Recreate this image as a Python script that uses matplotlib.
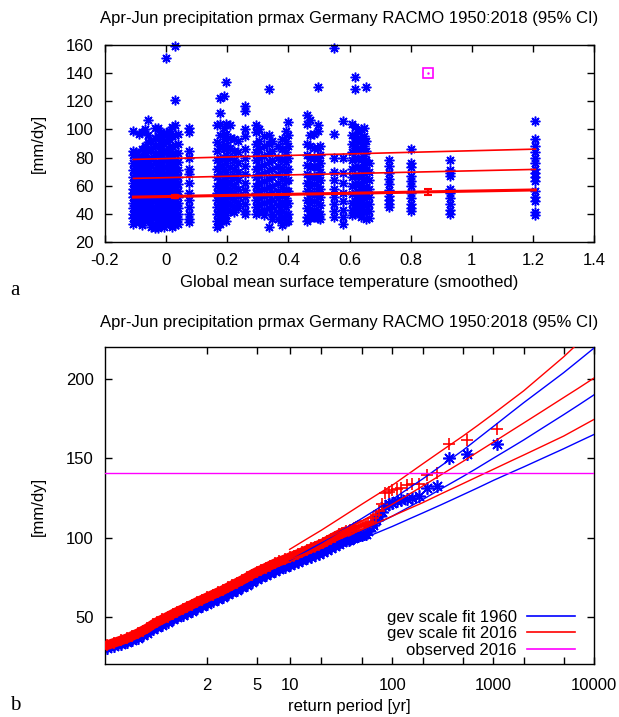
import numpy as np
import matplotlib
matplotlib.use("Agg")
import matplotlib.pyplot as plt
from matplotlib.ticker import NullLocator

plt.rcParams["font.family"] = ["Liberation Sans", "DejaVu Sans"]
plt.rcParams["font.size"] = 12

title = "Apr-Jun precipitation prmax Germany RACMO 1950:2018 (95% CI)"

# ---- panel a: annual maxima vs smoothed GMST (one column per year) ----
gmst = [-0.107, -0.098, -0.088, -0.078, -0.068, -0.058, -0.048, -0.038, -0.028, -0.018,
        -0.008, 0.0, 0.01, 0.02, 0.028, 0.04, 0.075,
        0.165, 0.175, 0.19, 0.197, 0.21, 0.222, 0.235, 0.258,
        0.295, 0.305, 0.32, 0.335, 0.348, 0.365, 0.38, 0.392, 0.4,
        0.46, 0.47, 0.485, 0.497, 0.505, 0.548, 0.58,
        0.607, 0.617, 0.627, 0.637, 0.647, 0.655, 0.665,
        0.728, 0.8, 0.93, 1.208]
prmax = [
    [99, 85, 82, 76, 71, 66, 62, 58, 55, 52, 48, 44, 40, 37, 33],
    [84, 79, 74, 69, 64, 60, 57, 53, 50, 46, 42, 38, 35],
    [97, 81, 77, 72, 67, 63, 59, 55, 51, 47, 43, 39, 34],
    [98, 86, 80, 75, 70, 65, 61, 56, 52, 49, 45, 41, 36, 32],
    [100, 88, 83, 78, 73, 68, 63, 58, 54, 50, 46, 42, 38, 35],
    [107, 96, 91, 85, 79, 74, 69, 64, 60, 56, 52, 48, 44, 40, 36],
    [92, 86, 80, 75, 70, 66, 62, 58, 54, 50, 46, 43, 39, 34, 31],
    [101, 94, 88, 82, 76, 71, 66, 61, 57, 53, 49, 45, 41, 37, 32, 30],
    [101, 95, 89, 83, 77, 72, 67, 62, 58, 54, 50, 46, 42, 38, 34, 30],
    [98, 92, 86, 80, 74, 69, 64, 60, 56, 52, 48, 44, 40, 36, 32],
    [96, 90, 84, 78, 73, 68, 64, 59, 55, 51, 47, 43, 39, 35, 31],
    [151, 97, 91, 85, 79, 73, 68, 63, 59, 55, 51, 47, 43, 39, 35],
    [99, 93, 86, 80, 75, 70, 65, 61, 57, 53, 49, 45, 41, 37, 33],
    [102, 95, 88, 82, 77, 72, 67, 62, 58, 54, 50, 46, 42, 38, 34, 31],
    [159, 121, 103, 96, 89, 83, 78, 73, 68, 63, 59, 55, 51, 47, 43, 39, 35, 32],
    [97, 90, 83, 77, 71, 66, 61, 56, 52, 48, 44, 40, 36, 33],
    [101, 98, 85, 80, 72, 68, 62, 55, 50, 45, 40, 36, 34],
    [103, 91, 85, 78, 72, 66, 60, 55, 50, 45, 40, 35, 31],
    [122, 112, 104, 96, 88, 80, 74, 68, 62, 57, 52, 47, 42, 37, 33],
    [124, 101, 93, 86, 79, 72, 66, 61, 56, 51, 46, 41, 37],
    [134, 104, 97, 89, 82, 76, 70, 64, 59, 54, 49, 44, 39, 35],
    [103, 94, 87, 80, 73, 67, 62, 57, 52, 47, 42],
    [93, 85, 78, 72, 66, 60, 55, 50, 45, 41],
    [92, 84, 76, 70, 64, 58, 53, 48, 44],
    [117, 113, 100, 95, 86, 80, 74, 68, 62, 57, 52, 47, 42, 40],
    [103, 98, 90, 84, 78, 72, 66, 60, 55, 50, 45, 40],
    [100, 92, 86, 80, 74, 68, 62, 57, 52, 47, 42],
    [95, 88, 81, 75, 69, 63, 58, 53, 48, 43, 39],
    [129, 96, 90, 83, 77, 71, 65, 59, 54, 49, 44, 31],
    [92, 85, 78, 72, 66, 60, 55, 50, 45, 40, 36],
    [88, 80, 74, 68, 62, 56, 51, 46, 41, 36],
    [93, 86, 79, 72, 65, 59, 53, 47, 42, 37, 32],
    [99, 92, 84, 77, 70, 63, 57, 51, 45, 39, 34],
    [105, 96, 88, 80, 72, 64, 56, 48, 40, 35],
    [110, 104, 90, 82, 75, 68, 62, 56, 50, 44, 38, 35],
    [107, 96, 88, 80, 73, 66, 60, 54, 48, 42, 37],
    [97, 87, 80, 74, 67, 61, 55, 49, 43, 38],
    [130, 103, 99, 87, 80, 73, 66, 60, 54, 48, 42, 37],
    [88, 82, 76, 70, 64, 58, 52, 46, 40, 36],
    [158, 97, 80, 70, 64, 58, 52, 47, 42, 38],
    [106, 80, 69, 62, 55, 49, 43, 38, 33],
    [104, 96, 90, 84, 78, 72, 66, 60, 54, 48, 43, 39],
    [137, 129, 102, 94, 87, 80, 73, 67, 61, 55, 49, 44, 40],
    [98, 91, 85, 79, 73, 67, 61, 56, 51, 46, 41],
    [100, 93, 86, 79, 72, 66, 60, 54, 48, 43, 38],
    [101, 95, 88, 81, 75, 69, 63, 57, 51, 46, 41],
    [130, 92, 85, 78, 71, 65, 59, 53, 47, 42, 36],
    [76, 70, 64, 58, 52, 47, 42, 37],
    [78, 74, 69, 65, 61, 57, 53, 50, 47, 45],
    [86, 76, 73, 67, 63, 60, 55, 51, 47, 44, 42],
    [78, 71, 69, 67, 58, 55, 51, 47, 43, 40],
    [106, 93, 88, 84, 80, 76, 72, 69, 66, 63, 56, 52, 49, 41, 39],
]

# fitted lines (location, and two return levels) at first / last covariate
fit_x = [-0.107, 1.208]
fit_mu = [51.9, 57.0]
fit_mid = [65.2, 71.6]
fit_hi = [78.7, 86.0]

# fit value with 95% CI at 1960 and 2016, observed 2016 value
ref_x = [0.028, 0.858]
ref_y = [52.6, 55.6]
ref_err = [1.0, 2.3]
obs_x = 0.858
obs_2016 = 140.4

# ---- panel b: Gumbel plot ----
rp_tail = [1100, 550, 367, 275, 220, 183, 157, 138, 122, 110, 100, 92, 85, 79, 73,
           69, 65, 61, 58, 55, 52, 50, 48, 46, 44, 42, 41, 39, 38, 37]
rp_dense = [35, 32, 30, 27, 25, 23, 21, 19, 17.5, 16, 14.5, 13, 12, 11, 10, 9, 8, 7.3,
            6.6, 6, 5.5, 5, 4.5, 4.1, 3.7, 3.4, 3.1, 2.85, 2.6, 2.4, 2.2, 2.0, 1.85,
            1.72, 1.6, 1.5, 1.42, 1.34, 1.28, 1.22, 1.17, 1.13, 1.1, 1.07, 1.05,
            1.035, 1.022, 1.013, 1.007, 1.003, 1.001]
obs1960_tail = [159, 152.6, 150, 132.5, 131, 126, 125, 124.5, 123.5, 123, 122, 121,
                120, 116, 113.5, 111, 108, 106.5, 104, 102.5, 102, 101.8, 101.5, 101,
                100.8, 100.5, 100, 99.5, 99, 98.5]
obs1960_dense = [98.3, 97, 95.8, 94.5, 93.5, 92.3, 91.0, 89.8, 88.9, 87.9, 86.8, 85.5,
                 84.6, 83.6, 82.5, 81.3, 80.0, 78.9, 77.5, 76.2, 75.0, 73.7, 72.0, 70.2,
                 68.5, 67.1, 65.5, 64.1, 62.5, 61.3, 59.8, 58.2, 56.8, 55.4, 53.8, 52.4,
                 51.1, 49.6, 48.3, 46.7, 45.1, 43.6, 42.1, 39.9, 38.3, 36.8, 35.3, 33.9,
                 32.8, 31.6, 30.3]
obs2016_tail = [168.4, 161.5, 159.3, 140.4, 139.4, 134, 133.5, 133, 131.5, 130.5, 130,
                128.5, 128, 121, 117, 114, 112, 109.5, 109, 108.5, 108, 107.5, 107, 107,
                106.5, 106, 105.5, 105, 104.5, 104]
obs2016_dense = [104, 103, 102, 100.5, 99.3, 98, 96.5, 95.3, 94.3, 93.2, 92, 90.6, 89.6,
                 88.6, 87.5, 86.2, 84.9, 83.7, 82.3, 80.9, 79.6, 78.3, 76.6, 74.8, 73.0,
                 71.6, 70.0, 68.5, 66.8, 65.5, 64.0, 62.3, 60.8, 59.4, 57.7, 56.2, 54.8,
                 53.2, 51.8, 50.1, 48.4, 46.8, 45.2, 42.8, 41.2, 39.6, 38.0, 36.4, 35.1,
                 33.6, 32.0]

rp_fit = [10, 15, 20, 30, 50, 70, 100, 150, 200, 300, 500, 700, 1000, 1500, 2000,
          3000, 5000, 7000, 10000]
fit1960_hi = [85.5, 92, 96.5, 103.4, 112, 117.8, 124, 131.7, 137, 145, 155, 162.3,
              170, 178.8, 185, 193.4, 204, 211.5, 219.5]
fit1960 = [83, 88, 91.5, 97, 104, 108.6, 113.5, 119.6, 124, 130.5, 138.5, 144, 150,
           156.7, 161.5, 168.6, 177.5, 183.5, 190]
fit1960_lo = [81.5, 85.9, 89, 93.4, 99, 102.9, 107, 112, 115.5, 120.5, 127, 131.3, 136,
              141, 144.5, 149.6, 156, 160.4, 165]
fit2016_hi = [92.5, 99.6, 104.5, 111.8, 121, 126.9, 133, 140.9, 146.5, 154.3, 164,
              170.7, 178, 186.5, 192.5, 202, 214, 222.7, 232]
fit2016 = [88, 93.6, 97.5, 103.3, 110.5, 115.6, 121, 127.7, 132.5, 139.4, 148, 153.9,
           160.1, 167.2, 172.2, 179.3, 188.3, 194.2, 200.6]
fit2016_lo = [86, 90.7, 94, 98.9, 105, 109.1, 113.5, 118.5, 122, 127.4, 134, 138.4, 143,
              148.3, 152, 157.3, 164, 169.1, 174.5]

rp_ticks = [2, 5, 10, 20, 50, 100, 200, 500, 1000, 2000, 5000, 10000]
rp_labels = ["2", "5", "10", "", "", "100", "", "", "1000", "", "", "10000"]

BLUE = "#0000ff"
RED = "#ff0000"
MAG = "#ff00ff"
star = (8, 2, 0)


def gumbel(T):
    T = np.clip(np.asarray(T, dtype=float), 1.0000001, None)
    return -np.log(-np.log1p(-1.0 / T))


def gumbel_inv(g):
    g = np.asarray(g, dtype=float)
    return 1.0 / -np.expm1(-np.exp(-g))


fig = plt.figure(figsize=(6.19, 7.17), dpi=100)
W, H = 619, 717
ax1 = fig.add_axes([105 / W, 1 - 242 / H, 489 / W, 197 / H])
ax2 = fig.add_axes([105 / W, 1 - 664.3 / H, 489 / W, 317 / H])

# panel a
for x, ys in zip(gmst, prmax):
    ax1.plot([x] * len(ys), ys, ls="none", marker=star, ms=7, mew=1.1,
             color=BLUE, clip_on=False, zorder=2)
ax1.plot(fit_x, fit_hi, color=RED, lw=1.2, zorder=3)
ax1.plot(fit_x, fit_mid, color=RED, lw=1.2, zorder=3)
ax1.plot(fit_x, fit_mu, color=RED, lw=2.2, zorder=3)
ax1.errorbar(ref_x[:1], ref_y[:1], yerr=ref_err[:1], fmt="s", ms=3.5, color=RED,
             elinewidth=1.5, capsize=3, capthick=1.5, zorder=4)
ax1.errorbar(ref_x[1:], ref_y[1:], yerr=ref_err[1:], fmt="none", ecolor=RED,
             elinewidth=1.5, capsize=3, capthick=1.5, zorder=4)
ax1.plot([obs_x], [obs_2016], marker="s", ms=7, mfc="none", mec=MAG, mew=1.2, zorder=4)
ax1.plot([obs_x], [obs_2016], marker=".", ms=1.5, color=MAG, zorder=4)
ax1.set_xlim(-0.2, 1.4)
ax1.set_ylim(20, 160)
ax1.set_xticks(np.arange(-0.2, 1.41, 0.2))
ax1.set_xticklabels(["-0.2", "0", "0.2", "0.4", "0.6", "0.8", "1", "1.2", "1.4"])
ax1.set_yticks(range(20, 161, 20))

# panel b
ax2.set_xscale("function", functions=(gumbel, gumbel_inv))
for ys, c in ((fit1960_hi, BLUE), (fit1960, BLUE), (fit1960_lo, BLUE),
              (fit2016_hi, RED), (fit2016, RED), (fit2016_lo, RED)):
    ax2.plot(rp_fit, ys, color=c, lw=1.0, zorder=4)
# the many overlapping points of the body form a solid band
ax2.plot(rp_dense, obs1960_dense, color=BLUE, lw=7, solid_capstyle="round", zorder=2)
ax2.plot(rp_tail + rp_dense, obs1960_tail + obs1960_dense, ls="none", marker=star,
         ms=9, mew=1.2, color=BLUE, zorder=2)
ax2.plot(rp_dense, obs2016_dense, color=RED, lw=7, solid_capstyle="round", zorder=3)
ax2.plot(rp_tail + rp_dense, obs2016_tail + obs2016_dense, ls="none", marker="+",
         ms=9, mew=1.2, color=RED, zorder=3)
ax2.axhline(obs_2016, color=MAG, lw=1.0, zorder=4)
ax2.set_xlim(1.00076, 10000)
ax2.set_ylim(20, 220)
ax2.set_xticks(rp_ticks)
ax2.set_xticklabels(rp_labels)
ax2.xaxis.set_minor_locator(NullLocator())
ax2.set_yticks([50, 100, 150, 200])

# legend drawn as gnuplot does: text right-aligned, sample line on its right
leg_handles = [plt.Line2D([], [], color=BLUE, lw=1.2),
               plt.Line2D([], [], color=RED, lw=1.2),
               plt.Line2D([], [], color=MAG, lw=1.2)]
ax2.legend(leg_handles, ["gev scale fit 1960", "gev scale fit 2016", "observed 2016"],
           loc="lower right", bbox_to_anchor=(0.961, 0.02), markerfirst=False,
           frameon=False, handlelength=2.9, handletextpad=0.6, labelspacing=0.1,
           borderpad=0.0, borderaxespad=0.0, fontsize=12)

for ax in (ax1, ax2):
    ax.tick_params(direction="in", length=5, width=1, top=True, right=True,
                   labelsize=12, pad=8)
    for s in ax.spines.values():
        s.set_linewidth(1.0)
ax2.tick_params(axis="x", pad=10)

fig.text(349.5 / W, 1 - 18 / H, title, ha="center", va="center")
fig.text(349.5 / W, 1 - 323 / H, title, ha="center", va="center")
fig.text(349.5 / W, 1 - 283 / H, "Global mean surface temperature (smoothed)",
         ha="center", va="center")
fig.text(349.5 / W, 1 - 707 / H, "return period [yr]", ha="center", va="center")
fig.text(38 / W, 1 - 143.5 / H, "[mm/dy]", rotation=90, ha="center", va="center")
fig.text(38 / W, 1 - 506 / H, "[mm/dy]", rotation=90, ha="center", va="center")
fig.text(15 / W, 1 - 290 / H, "a", family="Liberation Serif", fontsize=15,
         ha="center", va="center")
fig.text(15 / W, 1 - 706 / H, "b", family="Liberation Serif", fontsize=15,
         ha="center", va="center")

fig.savefig("out.png", dpi=100)
